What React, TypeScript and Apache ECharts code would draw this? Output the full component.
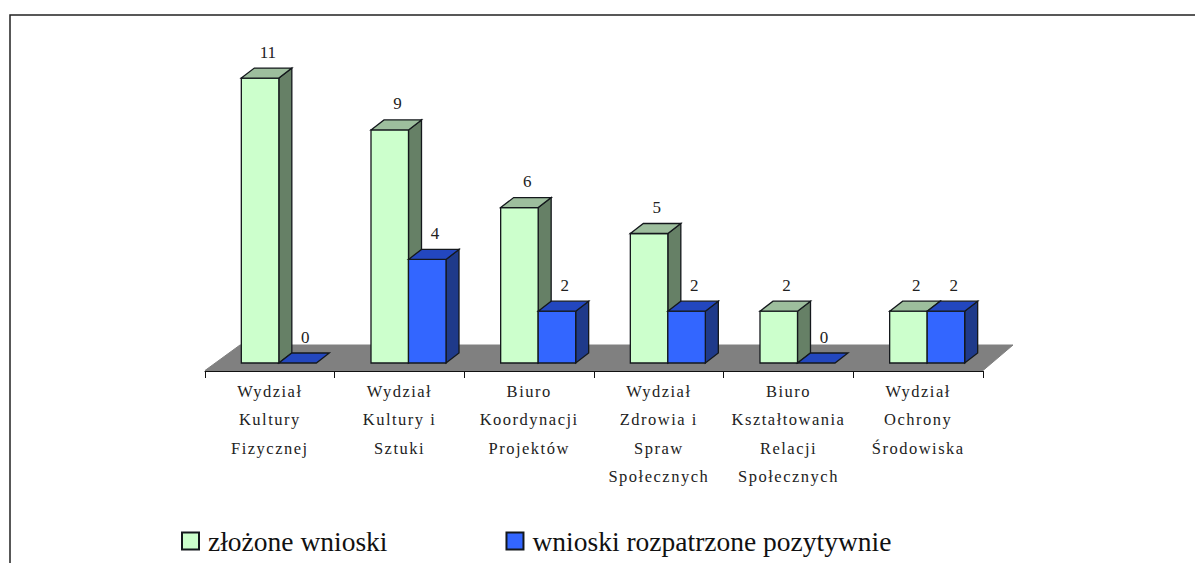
import React, { useEffect, useRef } from "react";
import * as echarts from "echarts";

const categories = [
  "Wydział\nKultury\nFizycznej",
  "Wydział\nKultury i\nSztuki",
  "Biuro\nKoordynacji\nProjektów",
  "Wydział\nZdrowia i\nSpraw\nSpołecznych",
  "Biuro\nKształtowania\nRelacji\nSpołecznych",
  "Wydział\nOchrony\nŚrodowiska",
];
const submitted = [11, 9, 6, 5, 2, 2];
const approved = [0, 4, 2, 2, 0, 2];
const seriesNames = ["złożone wnioski", "wnioski rozpatrzone pozytywnie"];

const DX = 13;
const DY = -10;
const BAR = 37.5;
const OUT = "#14181c";

function barRenderer(colors: { front: string; top: string; side: string }, offset: number) {
  return (params: any, api: any) => {
    const i = api.value(0);
    const v = api.value(1);
    const [cx, y0] = api.coord([i, 0]);
    const [, y1] = api.coord([i, v]);
    const l = cx + offset;
    const r = l + BAR;
    const lineStyle = { stroke: OUT, lineWidth: 1.3 };
    const children: any[] = [];
    if (v > 0) {
      children.push(
        { type: "polygon", shape: { points: [[r, y0], [r + DX, y0 + DY], [r + DX, y1 + DY], [r, y1]] }, style: { fill: colors.side, ...lineStyle } },
        { type: "rect", shape: { x: l, y: y1, width: BAR, height: y0 - y1 }, style: { fill: colors.front, ...lineStyle } }
      );
    }
    children.push({
      type: "polygon",
      shape: { points: [[l, y1], [l + DX, y1 + DY], [r + DX, y1 + DY], [r, y1]] },
      style: { fill: colors.top, ...lineStyle },
    });
    children.push({
      type: "text",
      style: {
        text: String(v),
        x: l + 26.5,
        y: y1 + DY - 16,
        align: "center",
        verticalAlign: "middle",
        fill: "#222222",
        font: "17px 'Liberation Serif'",
      },
    });
    return { type: "group", children };
  };
}

function floorRenderer(params: any, api: any) {
  const band = api.size([1, 0])[0];
  const [c0, y0] = api.coord([0, 0]);
  const [c5] = api.coord([5, 0]);
  const left = c0 - band / 2;
  const right = c5 + band / 2;
  return {
    type: "polygon",
    shape: { points: [[left, y0 + 7.5], [left + 35, y0 - 18], [right + 30, y0 - 18], [right, y0 + 7.5]] },
    style: { fill: "#808080", stroke: "#808080", lineWidth: 1 },
  };
}

export default function App() {
  const ref = useRef<HTMLDivElement>(null);
  useEffect(() => {
    const chart = echarts.init(ref.current!, null, { renderer: "svg" });
    chart.setOption({
      animation: false,
      backgroundColor: "#ffffff",
      grid: { left: 205, width: 778, top: 52.2, height: 310.8 },
      xAxis: {
        type: "category",
        data: categories,
        offset: 8,
        z: 10,
        axisLine: { show: true, onZero: false, lineStyle: { color: "#111111", width: 1 } },
        axisTick: { show: true, length: 7, lineStyle: { color: "#111111", width: 1 } },
        axisLabel: {
          interval: 0,
          margin: 6,
          fontFamily: "Liberation Serif",
          fontSize: 16.5,
          lineHeight: 28.5,
          color: "#222222",
        },
      },
      yAxis: { type: "value", min: 0, max: 12, show: false, splitLine: { show: false } },
      legend: {
        data: seriesNames,
        left: 181,
        top: 527,
        padding: 0,
        icon: "rect",
        itemWidth: 17,
        itemHeight: 17,
        itemGap: 118,
        textStyle: { fontFamily: "Liberation Serif", fontSize: 27.5, color: "#111111", padding: [0, 0, 0, 4] },
        selectedMode: false,
      },
      series: [
        { type: "custom", name: "floor", silent: true, z: 1, data: [[0, 0]], renderItem: floorRenderer, encode: { x: 0, y: 1 } },
        {
          type: "custom",
          name: seriesNames[0],
          z: 2,
          silent: true,
          itemStyle: { color: "#CCFFCC", borderColor: OUT, borderWidth: 1 },
          data: submitted.map((v, i) => [i, v]),
          encode: { x: 0, y: 1 },
          renderItem: barRenderer({ front: "#CCFFCC", top: "#9DBE9D", side: "#668066" }, -28.5),
        },
        {
          type: "custom",
          name: seriesNames[1],
          z: 3,
          silent: true,
          itemStyle: { color: "#3366FF", borderColor: OUT, borderWidth: 1 },
          data: approved.map((v, i) => [i, v]),
          encode: { x: 0, y: 1 },
          renderItem: barRenderer({ front: "#3366FF", top: "#2347BF", side: "#1F3A8A" }, 9),
        },
      ],
      graphic: [
        {
          type: "polyline",
          silent: true,
          shape: { points: [[10, 563], [10, 15], [1195, 15]] },
          style: { fill: "none", stroke: "#222222", lineWidth: 1.5 },
        },
      ],
    });
    return () => chart.dispose();
  }, []);
  return (
    <>
      <style>{`svg text[style*="16.5px"] { letter-spacing: 1.5px; }`}</style>
      <div ref={ref} style={{ position: "fixed", left: 0, top: 0, width: 1195, height: 563 }} />
    </>
  );
}
